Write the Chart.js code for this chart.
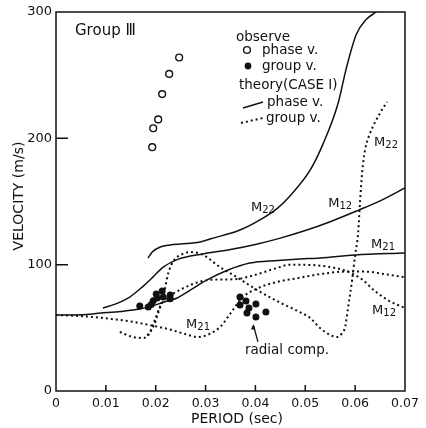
<!DOCTYPE html>
<html>
<head>
<meta charset="utf-8">
<script src="https://cdn.jsdelivr.net/npm/chart.js@4.4.1/dist/chart.umd.min.js"></script>
<style>
  html, body { margin: 0; padding: 0; background: #fff; }
  canvas { display: block; }
</style>
</head>
<body>
<canvas id="dispersionChart" width="426" height="428"></canvas>
<script>
// axis ticks
const xTickValues = [0, 0.01, 0.02, 0.03, 0.04, 0.05, 0.06, 0.07];
const xTickLabels = ['0', '0.01', '0.02', '0.03', '0.04', '0.05', '0.06', '0.07'];
const yTickValues = [0, 100, 200, 300];
const yTickLabels = ['0', '100', '200', '300'];

// observed phase velocity (open circles)
const obsPhasePeriod = [0.0193, 0.0195, 0.0205, 0.0213, 0.0227, 0.0247];
const obsPhaseVel = [193, 208, 215, 235, 251, 264];

// observed group velocity (filled dots)
const obsGroupPeriod = [0.0168, 0.0185, 0.0191, 0.0195, 0.0203, 0.0201, 0.0213, 0.0215, 0.0229, 0.0229];
const obsGroupVel = [67.3, 66.5, 68.5, 71.5, 73.6, 76.8, 79.2, 74.5, 76, 73];

// observed group velocity, radial component
const radialPeriod = [0.0369, 0.0381, 0.0369, 0.0401, 0.0387, 0.0383, 0.0421, 0.0401];
const radialVel = [74.4, 71.2, 68.1, 68.9, 65.7, 61.7, 62.5, 58.6];

// theory, phase velocity
const m21PhasePeriod = [0, 0.005, 0.009, 0.013, 0.0168, 0.019, 0.021, 0.0225, 0.0243, 0.027, 0.0303, 0.0345, 0.0389, 0.0445, 0.0489, 0.053, 0.06, 0.07];
const m21PhaseVel = [60.2, 60.4, 61.7, 63, 64.9, 67, 69.5, 71.5, 73.6, 80, 87.9, 95.8, 101.3, 103.3, 104.5, 105.3, 107.7, 109.3];

const m12PhasePeriod = [0.0094, 0.012, 0.0148, 0.0175, 0.0189, 0.0215, 0.0243, 0.0295, 0.035, 0.04, 0.045, 0.05, 0.055, 0.0606, 0.065, 0.07];
const m12PhaseVel = [65.7, 69, 74.4, 83, 88, 98, 104, 108.5, 112, 116, 121, 127, 134, 143, 150.5, 160.7];

const m22PhasePeriod = [0.01845, 0.0193, 0.0209, 0.0229, 0.0249, 0.0289, 0.0309, 0.0369, 0.0409, 0.0445, 0.0475, 0.051, 0.0535, 0.0566, 0.0582, 0.0602, 0.0622, 0.0642];
const m22PhaseVel = [105.3, 110, 114, 115.6, 116.4, 118, 120.3, 127.4, 135.4, 145, 157, 175, 195, 228, 255, 282, 294, 300];

// theory, group velocity
const m21GroupPeriod = [0, 0.005, 0.01, 0.015, 0.019, 0.023, 0.026, 0.0285, 0.031, 0.033, 0.035, 0.0373, 0.04, 0.044, 0.048, 0.053, 0.058, 0.062, 0.066, 0.07];
const m21GroupVel = [60.2, 59.3, 57.5, 55, 52, 48.5, 45, 42.7, 45.5, 51, 61.5, 73.6, 80.5, 86, 89, 92.5, 94.5, 94.5, 92.5, 90];

const m12GroupPeriod = [0.0128, 0.0154, 0.0176, 0.0188, 0.0199, 0.0209, 0.022, 0.0235, 0.027, 0.031, 0.036, 0.04, 0.044, 0.047, 0.0535, 0.0585, 0.0615, 0.064, 0.067, 0.07];
const m12GroupVel = [46.7, 42.7, 42, 46, 57, 67, 73, 77, 84, 88, 88.5, 92, 97, 100, 99, 94.5, 88, 79, 71, 65.7];

const m22GroupPeriod = [0.0183, 0.0195, 0.0205, 0.0215, 0.0225, 0.0237, 0.0249, 0.0269, 0.0295, 0.0329, 0.0363, 0.0403, 0.0449, 0.0489, 0.051, 0.0529, 0.055, 0.0564, 0.0574, 0.058, 0.0586, 0.0594, 0.06, 0.0606, 0.061, 0.0614, 0.062, 0.063, 0.065, 0.0664];
const m22GroupVel = [44, 50.7, 61.7, 74.4, 93, 103.7, 107.5, 110, 107.7, 98, 90, 80, 70, 62.5, 57.8, 50, 44.3, 42.7, 45.9, 50.7, 66.5, 88, 107.7, 125, 151, 172.6, 191, 204, 220, 228.8];

// mode labels, anchored in data units (period, velocity)
const modeLabels = [
  { sub: '22', x: 0.0415, y: 146 },
  { sub: '12', x: 0.057, y: 149 },
  { sub: '22', x: 0.0662, y: 197 },
  { sub: '21', x: 0.0656, y: 116 },
  { sub: '12', x: 0.0658, y: 64 },
  { sub: '21', x: 0.0285, y: 53 }
];

const FONT = "'DejaVu Sans', sans-serif";
const INK = '#111';

const pts = (xs, ys) => xs.map((v, i) => ({ x: v, y: ys[i] }));

const solid = (xs, ys) => ({
  type: 'line', data: pts(xs, ys), showLine: true, pointRadius: 0,
  borderColor: INK, borderWidth: 1.5, fill: false, cubicInterpolationMode: 'monotone'
});
const dotted = (xs, ys) => ({
  type: 'line', data: pts(xs, ys), showLine: true, pointRadius: 0,
  borderColor: INK, borderWidth: 2, borderDash: [2, 3], fill: false, cubicInterpolationMode: 'monotone'
});

function drawMode(ctx, px, py, sub) {
  ctx.font = '13px ' + FONT;
  const wM = ctx.measureText('M').width;
  ctx.font = '10px ' + FONT;
  const wS = ctx.measureText(sub).width;
  const left = px - (wM + wS) / 2;
  ctx.font = '13px ' + FONT;
  ctx.fillText('M', left, py + 4);
  ctx.font = '10px ' + FONT;
  ctx.fillText(sub, left + wM, py + 6);
}

const decorations = {
  id: 'decorations',
  afterDraw(chart) {
    const { ctx, chartArea: a, scales: { x, y } } = chart;
    ctx.save();
    ctx.strokeStyle = INK;
    ctx.fillStyle = INK;
    ctx.lineWidth = 1.5;
    ctx.setLineDash([]);

    // frame
    ctx.strokeRect(a.left, a.top, a.right - a.left, a.bottom - a.top);

    // inward tick marks
    ctx.beginPath();
    xTickValues.slice(1, -1).forEach(v => {
      const px = x.getPixelForValue(v);
      ctx.moveTo(px, a.bottom);
      ctx.lineTo(px, a.bottom - 6);
    });
    yTickValues.slice(1, -1).forEach(v => {
      const py = y.getPixelForValue(v);
      ctx.moveTo(a.left, py);
      ctx.lineTo(a.left + 12, py);
    });
    ctx.stroke();

    // axis titles
    ctx.textBaseline = 'middle';
    ctx.textAlign = 'center';
    ctx.font = '14px ' + FONT;
    ctx.fillText('PERIOD (sec)', 237, 419);
    ctx.save();
    ctx.translate(19, 196);
    ctx.rotate(-Math.PI / 2);
    ctx.fillText('VELOCITY (m/s)', 0, 0);
    ctx.restore();

    // panel title
    ctx.textAlign = 'left';
    ctx.font = '15px ' + FONT;
    ctx.fillText('Group \u2162', 75, 31);

    // legend
    ctx.font = '13.5px ' + FONT;
    ctx.fillText('observe', 236, 37);
    ctx.fillText('phase v.', 262, 50);
    ctx.fillText('group v.', 262, 66);
    ctx.fillText('theory(CASE I)', 239, 85);
    ctx.fillText('phase v.', 267, 102);
    ctx.fillText('group v.', 266, 118);

    ctx.lineWidth = 1.4;
    ctx.beginPath();
    ctx.arc(247, 50, 3.4, 0, Math.PI * 2);
    ctx.fillStyle = '#fff';
    ctx.fill();
    ctx.stroke();
    ctx.fillStyle = INK;
    ctx.beginPath();
    ctx.arc(248, 66, 3.4, 0, Math.PI * 2);
    ctx.fill();

    ctx.lineWidth = 1.5;
    ctx.beginPath();
    ctx.moveTo(243, 108);
    ctx.lineTo(263, 102);
    ctx.stroke();
    ctx.lineWidth = 2;
    ctx.setLineDash([2, 3]);
    ctx.beginPath();
    ctx.moveTo(241, 123);
    ctx.lineTo(263, 118);
    ctx.stroke();
    ctx.setLineDash([]);

    // mode labels
    ctx.textBaseline = 'alphabetic';
    modeLabels.forEach(m => drawMode(ctx, x.getPixelForValue(m.x), y.getPixelForValue(m.y), m.sub));

    // radial component note with arrow
    ctx.textAlign = 'center';
    ctx.textBaseline = 'middle';
    ctx.font = '13.5px ' + FONT;
    ctx.fillText('radial comp.', 287, 350);
    const ax0 = x.getPixelForValue(0.0405), ay0 = y.getPixelForValue(39);
    const ax1 = x.getPixelForValue(0.0396), ay1 = y.getPixelForValue(52);
    ctx.lineWidth = 1.3;
    ctx.beginPath();
    ctx.moveTo(ax0, ay0);
    ctx.lineTo(ax1, ay1);
    ctx.stroke();
    ctx.beginPath();
    ctx.moveTo(ax1, ay1 - 1);
    ctx.lineTo(ax1 - 2.5, ay1 + 4);
    ctx.lineTo(ax1 + 2, ay1 + 4.5);
    ctx.closePath();
    ctx.fill();

    ctx.restore();
  }
};

new Chart(document.getElementById('dispersionChart').getContext('2d'), {
  type: 'scatter',
  data: {
    datasets: [
      solid(m21PhasePeriod, m21PhaseVel),
      solid(m12PhasePeriod, m12PhaseVel),
      solid(m22PhasePeriod, m22PhaseVel),
      dotted(m21GroupPeriod, m21GroupVel),
      dotted(m12GroupPeriod, m12GroupVel),
      dotted(m22GroupPeriod, m22GroupVel),
      {
        data: pts(obsPhasePeriod, obsPhaseVel),
        pointRadius: 3.4, pointBorderWidth: 1.4,
        pointBackgroundColor: '#fff', pointBorderColor: INK
      },
      {
        data: pts(obsGroupPeriod, obsGroupVel),
        pointRadius: 3.5, pointBorderWidth: 0,
        pointBackgroundColor: INK, pointBorderColor: INK
      },
      {
        data: pts(radialPeriod, radialVel),
        pointRadius: 3.5, pointBorderWidth: 0,
        pointBackgroundColor: INK, pointBorderColor: INK
      }
    ]
  },
  options: {
    responsive: false,
    devicePixelRatio: 1,
    animation: false,
    layout: { padding: { top: 12, right: 21, left: 0, bottom: 0 } },
    plugins: {
      legend: { display: false },
      tooltip: { enabled: false }
    },
    scales: {
      x: {
        type: 'linear',
        min: 0,
        max: 0.07,
        grid: { display: false, drawTicks: false },
        border: { display: false },
        afterBuildTicks: s => { s.ticks = xTickValues.map(v => ({ value: v })); },
        afterFit: s => { s.height = 37; },
        ticks: {
          color: INK,
          padding: 5,
          maxRotation: 0,
          autoSkip: false,
          font: { family: FONT, size: 12.5 },
          callback: (v, i) => xTickLabels[i]
        }
      },
      y: {
        type: 'linear',
        min: 0,
        max: 300,
        grid: { display: false, drawTicks: false },
        border: { display: false },
        afterBuildTicks: s => { s.ticks = yTickValues.map(v => ({ value: v })); },
        afterFit: s => { s.width = 56; },
        ticks: {
          color: INK,
          padding: 4,
          autoSkip: false,
          font: { family: FONT, size: 13 },
          callback: (v, i) => yTickLabels[i]
        }
      }
    }
  },
  plugins: [decorations]
});
</script>
</body>
</html>
